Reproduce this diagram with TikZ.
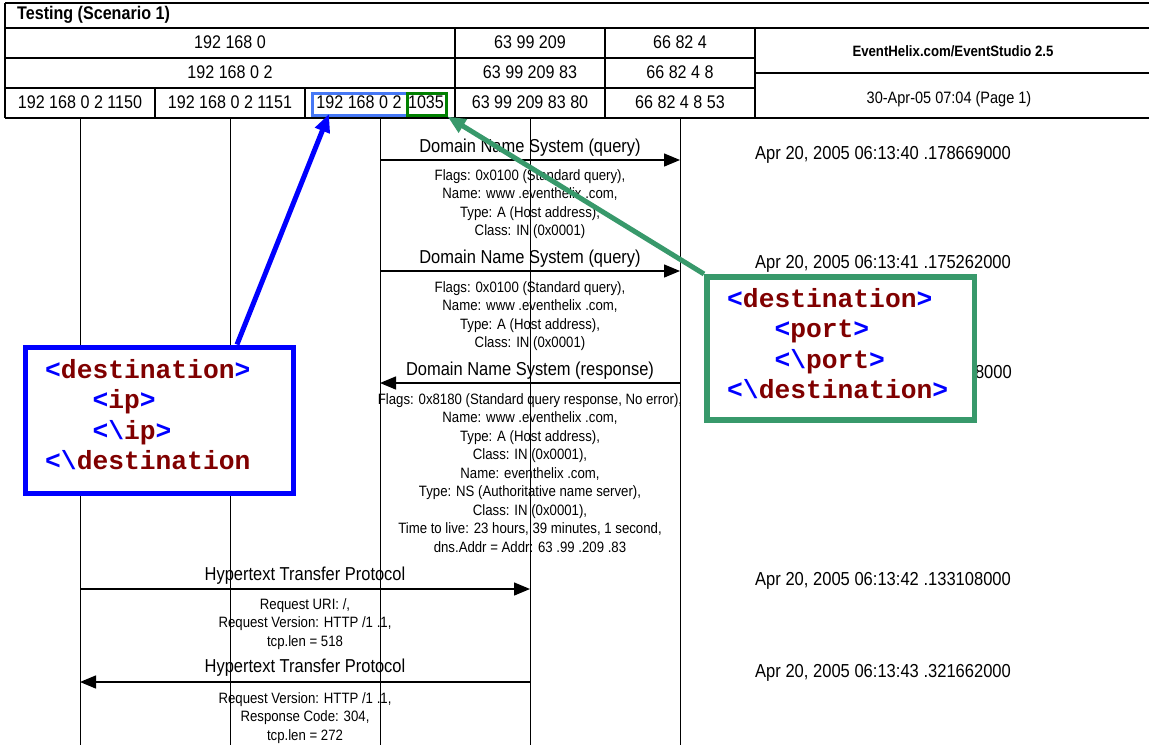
\documentclass[tikz,border=0pt]{standalone}
\usepackage{fontspec}
\setmainfont{Liberation Sans}[FakeStretch=0.88]
\newfontfamily\codefont{Liberation Mono}
\usetikzlibrary{arrows.meta}
\definecolor{hdrblue}{RGB}{70,120,245}
\definecolor{hdrgreen}{RGB}{0,128,0}
\definecolor{callblue}{RGB}{0,0,255}
\definecolor{callgreen}{RGB}{56,153,107}
\definecolor{tagblue}{RGB}{0,0,255}
\definecolor{tagred}{RGB}{128,0,0}
\newcommand\tgopen[1]{\textcolor{tagblue}{<}\textcolor{tagred}{#1}\textcolor{tagblue}{>}}
\newcommand\tgclose[1]{\textcolor{tagblue}{<\textbackslash}\textcolor{tagred}{#1}\textcolor{tagblue}{>}}
\newcommand\tgcloseopen[1]{\textcolor{tagblue}{<\textbackslash}\textcolor{tagred}{#1}}
\begin{document}
\begin{tikzpicture}[x=1pt,y=-1pt,
  hdr/.style={line width=1.8pt},
  lifeline/.style={line width=0.8pt},
  msg/.style={line width=1.4pt,-{Triangle[length=16pt,width=13pt]}},
  cell/.style={font=\fontsize{18.3}{20}\selectfont,anchor=mid,inner sep=0,yshift=-2.5pt},
  msglabel/.style={font=\fontsize{18.7}{21}\selectfont,anchor=mid,inner sep=0,yshift=-3pt},
  detail/.style={font=\fontsize{15}{18.5}\selectfont,align=center,anchor=north,inner sep=0,yshift=-2pt},
  stamp/.style={font=\fontsize{18.8}{21}\selectfont,anchor=mid west,inner sep=0,yshift=-3pt},
  callout/.style={rectangle,fill=white,line width=5.5pt,anchor=north west,inner sep=0},
  codetext/.style={font=\codefont\bfseries\fontsize{26.3}{30.5}\selectfont,align=left,anchor=north west,inner sep=0},
  pointer/.style={line width=5pt,-{Triangle[length=18pt,width=15pt]}}
]
\useasboundingbox (0,0) rectangle (1149,745);
% lifelines
\foreach \n/\x in {a/80,b/230,c/380,d/530,e/680}{
  \coordinate (\n top) at (\x,118);
  \coordinate (\n bot) at (\x,745);
  \draw[lifeline] (\n top) -- (\n bot);
}
% header table
\draw[hdr] (5,3) -- (1149,3);
\draw[hdr] (5,28) -- (1149,28);
\draw[hdr] (5,58) -- (755,58);
\draw[hdr] (755,73) -- (1149,73);
\draw[hdr] (5,88) -- (755,88);
\draw[hdr] (5,118) -- (1149,118);
\draw[hdr] (5,3) -- (5,118);
\foreach \x in {455,605,755}{\draw[hdr] (\x,28) -- (\x,118);}
\foreach \x in {155,305}{\draw[hdr] (\x,88) -- (\x,118);}
\node[font=\bfseries\fontsize{18.3}{20}\selectfont,anchor=mid west,inner sep=0] (title) at (17,17) {Testing (Scenario 1)};
\node[cell] (h1a) at (230,43) {192 168 0};
\node[cell] (h2a) at (230,73) {192 168 0 2};
\node[cell] (h3a) at (80,103) {192 168 0 2 1150};
\node[cell] (h3b) at (230,103) {192 168 0 2 1151};
\node[cell] (h3c) at (359,103) {192 168 0 2};
\node[cell] (h3p) at (426,103) {1035};
\node[cell] (h1d) at (530,43) {63 99 209};
\node[cell] (h1e) at (680,43) {66 82 4};
\node[cell] (h2d) at (530,73) {63 99 209 83};
\node[cell] (h2e) at (680,73) {66 82 4 8};
\node[cell] (h3d) at (530,103) {63 99 209 83 80};
\node[cell] (h3e) at (680,103) {66 82 4 8 53};
\node[font=\bfseries\fontsize{15}{18}\selectfont,anchor=mid,inner sep=0] (brand) at (953,54) {EventHelix.com/EventStudio 2.5};
\node[font=\fontsize{16.5}{19}\selectfont,anchor=mid,inner sep=0] (date) at (949,101) {30-Apr-05 07:04 (Page 1)};
% highlight boxes in header
\node[draw=hdrblue,line width=2.6pt,rectangle,anchor=north west,minimum width=95pt,minimum height=22pt,inner sep=0] (ipcell) at (311,92) {};
\node[draw=hdrgreen,line width=2.6pt,rectangle,anchor=north west,minimum width=39pt,minimum height=22pt,inner sep=0] (portcell) at (406,92) {};
\coordinate (iptip) at (329,114);
% message 1
\node[msglabel] (l1) at (530,147) {Domain Name System (query)};
\coordinate (m1s) at (380,160); \coordinate (m1e) at (680,160);
\draw[msg] (m1s) -- (m1e);
\node[detail] (d1) at (530,167) {Flags: 0x0100 (Standard query),\\Name: www .eventhelix .com,\\Type: A (Host address),\\Class: IN (0x0001)};
\node[stamp] (t1) at (755,154) {Apr 20, 2005 06:13:40 .178669000};
% message 2
\node[msglabel] (l2) at (530,258) {Domain Name System (query)};
\coordinate (m2s) at (380,271); \coordinate (m2e) at (680,271);
\draw[msg] (m2s) -- (m2e);
\node[detail] (d2) at (530,279) {Flags: 0x0100 (Standard query),\\Name: www .eventhelix .com,\\Type: A (Host address),\\Class: IN (0x0001)};
\node[stamp] (t2) at (755,263) {Apr 20, 2005 06:13:41 .175262000};
% message 3
\node[msglabel] (l3) at (530,370) {Domain Name System (response)};
\coordinate (m3s) at (680,383); \coordinate (m3e) at (380,383);
\draw[msg] (m3s) -- (m3e);
\node[detail] (d3) at (530,391) {Flags: 0x8180 (Standard query response, No error),\\Name: www .eventhelix .com,\\Type: A (Host address),\\Class: IN (0x0001),\\Name: eventhelix .com,\\Type: NS (Authoritative name server),\\Class: IN (0x0001),\\Time to live: 23 hours, 39 minutes, 1 second,\\dns.Addr = Addr: 63 .99 .209 .83};
\node[font=\fontsize{18.8}{21}\selectfont,anchor=mid east,inner sep=0,yshift=-3pt] (t3) at (1012,373) {8000};
% message 4
\node[msglabel] (l4) at (305,575) {Hypertext Transfer Protocol};
\coordinate (m4s) at (80,589); \coordinate (m4e) at (530,589);
\draw[msg] (m4s) -- (m4e);
\node[detail] (d4) at (305,596) {Request URI: /,\\Request Version: HTTP /1 .1,\\tcp.len = 518};
\node[stamp] (t4) at (755,580) {Apr 20, 2005 06:13:42 .133108000};
% message 5
\node[msglabel] (l5) at (305,667) {Hypertext Transfer Protocol};
\coordinate (m5s) at (530,682); \coordinate (m5e) at (80,682);
\draw[msg] (m5s) -- (m5e);
\node[detail] (d5) at (305,690) {Request Version: HTTP /1 .1,\\Response Code: 304,\\tcp.len = 272};
\node[stamp] (t5) at (755,672) {Apr 20, 2005 06:13:43 .321662000};
% blue callout
\node[callout,draw=callblue,minimum width=268pt,minimum height=146pt] (ipbox) at (22.5,344.5) {};
\node[codetext] (ipcode) at (45,359) {\tgopen{destination}\\\hspace*{1.8em}\tgopen{ip}\\\hspace*{1.8em}\tgclose{ip}\\\tgcloseopen{destination}};
\coordinate (ipfrom) at (237,344.5);
\draw[pointer,draw=callblue,fill=callblue] (ipfrom) -- (iptip);
% green callout
\node[callout,draw=callgreen,minimum width=267.5pt,minimum height=143pt] (portbox) at (704,274) {};
\node[codetext] (portcode) at (727,288) {\tgopen{destination}\\\hspace*{1.8em}\tgopen{port}\\\hspace*{1.8em}\tgclose{port}\\\tgclose{destination}};
\draw[pointer,draw=callgreen,fill=callgreen] (portbox.north west) -- (portcell.south east);
\end{tikzpicture}
\end{document}
